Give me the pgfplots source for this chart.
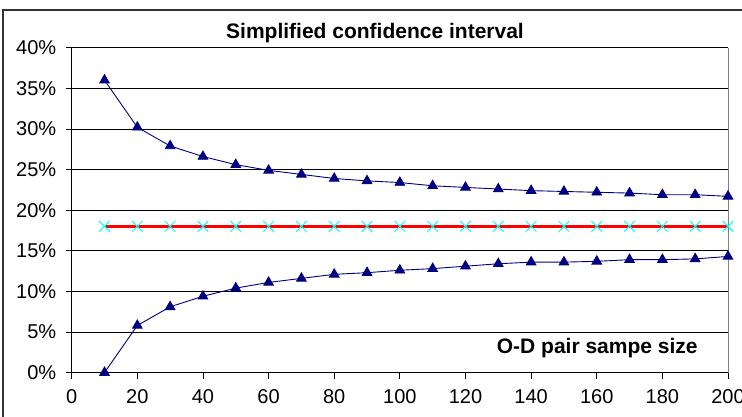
\documentclass[border=0pt]{standalone}
\usepackage{pgfplots}
\pgfplotsset{compat=1.18}
\usepackage{fontspec}
\setmainfont{Liberation Sans}
\definecolor{navyc}{RGB}{0,0,128}
\definecolor{cyanc}{RGB}{0,255,255}
\begin{document}
\begin{tikzpicture}
\begin{axis}[
  scale only axis, width=656.3bp, height=324.9bp,
  xmin=0, xmax=200, ymin=0, ymax=40,
  xtick={0,20,...,200}, ytick={0,5,...,40},
  axis lines=left, axis line style={-, black, line width=0.9bp},
  ymajorgrids, grid style={black, line width=0.8bp},
  tick align=outside, major tick length=6bp, tick style={black, line width=0.8bp},
  /pgf/number format/assume math mode=true,
  yticklabel={\pgfmathprintnumber{\tick}\%},
  ticklabel style={font=\fontsize{20bp}{24bp}\selectfont},
  xticklabel style={yshift=-7bp},
  yticklabel style={xshift=-6bp},
  clip=false,
]
\coordinate (O) at (rel axis cs:0,0);
\draw[gray, line width=1bp] (rel axis cs:1,0) -- (rel axis cs:1,1);
\addplot[navyc, line width=0.9bp, mark=triangle*, mark size=5.5bp, mark options={solid}] coordinates {
(10,36.0) (20,30.2) (30,27.9) (40,26.6) (50,25.6) (60,24.9) (70,24.4) (80,23.9) (90,23.6) (100,23.4)
(110,23.0) (120,22.8) (130,22.6) (140,22.4) (150,22.3) (160,22.2) (170,22.1) (180,21.9) (190,21.9) (200,21.7)};
\addplot[red, line width=3.2bp, mark=x, mark size=7.5bp, mark options={cyanc, line width=1bp}] coordinates {
(10,18) (20,18) (30,18) (40,18) (50,18) (60,18) (70,18) (80,18) (90,18) (100,18)
(110,18) (120,18) (130,18) (140,18) (150,18) (160,18) (170,18) (180,18) (190,18) (200,18)};
\addplot[navyc, line width=0.9bp, mark=triangle*, mark size=5.5bp, mark options={solid}] coordinates {
(10,0.0) (20,5.8) (30,8.1) (40,9.4) (50,10.4) (60,11.1) (70,11.6) (80,12.1) (90,12.3) (100,12.6)
(110,12.8) (120,13.1) (130,13.4) (140,13.6) (150,13.6) (160,13.7) (170,13.9) (180,13.9) (190,14.0) (200,14.3)};
\node[anchor=base east, inner sep=0, font=\bfseries\fontsize{21bp}{25bp}\selectfont] at (axis cs:190.8,2.38) {O-D pair sampe size};
\end{axis}
\pgfresetboundingbox
\path (O) ++(-71.7bp,-44.4bp) coordinate (BL);
\path[use as bounding box] (BL) rectangle ++(742bp,417bp);
\draw[black!80, line width=1.2bp] (BL) ++(3bp,-10bp) -- ++(0,417bp) -- ++(800bp,0);
\path (BL) ++(375bp,378.7bp) node[anchor=base, inner sep=0, font=\bfseries\fontsize{21bp}{25bp}\selectfont] {Simplified confidence interval};
\end{tikzpicture}
\end{document}
